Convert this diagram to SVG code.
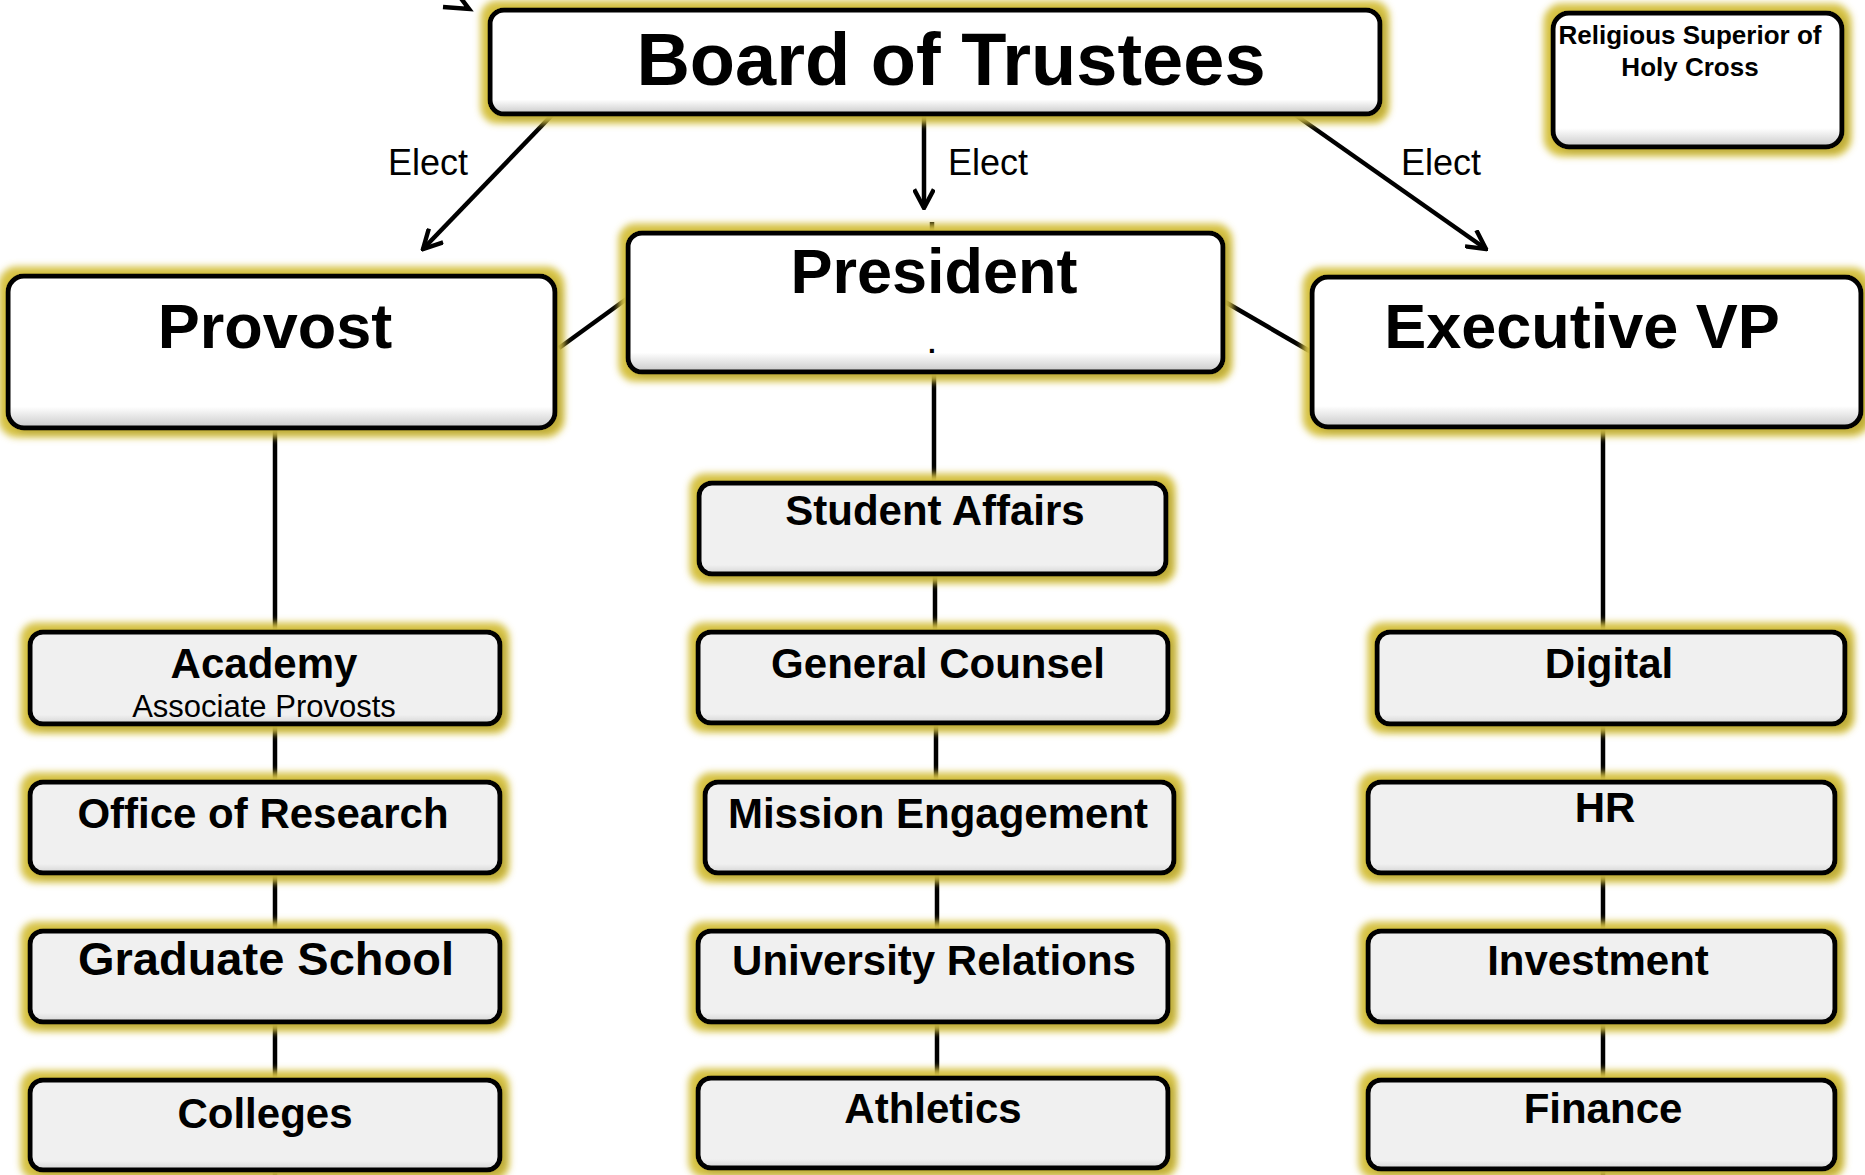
<svg xmlns="http://www.w3.org/2000/svg" width="1865" height="1175" viewBox="0 0 1865 1175">
<style>
  .box { stroke: #000; stroke-width: 5; filter: url(#glow); }
  .top { fill: url(#gTop); }
  .sub { fill: url(#gSub); }
  text { font-family: "Liberation Sans", Arial, sans-serif; fill: #000; }
  .t1 { font-size: 63px; font-weight: bold; text-anchor: middle; }
  .t2 { font-size: 42px; font-weight: bold; text-anchor: middle; }
  .lbl { font-size: 36px; }
  .conn { stroke: #000; stroke-width: 4.5; fill: none; }
</style>
<defs>
  <linearGradient id="gTop" x1="0" y1="0" x2="0" y2="1">
    <stop offset="0" stop-color="#ffffff"/>
    <stop offset="0.86" stop-color="#ffffff"/>
    <stop offset="1" stop-color="#c8c8c8"/>
  </linearGradient>
  <linearGradient id="gSub" x1="0" y1="0" x2="0" y2="1">
    <stop offset="0" stop-color="#f0f0f0"/>
    <stop offset="0.9" stop-color="#f0f0f0"/>
    <stop offset="1" stop-color="#d4d4d4"/>
  </linearGradient>
  <filter id="glow" x="-10%" y="-30%" width="120%" height="160%">
    <feMorphology in="SourceAlpha" operator="dilate" radius="7" result="d"/>
    <feGaussianBlur in="d" stdDeviation="3.5" result="b"/>
    <feFlood flood-color="#d6c244"/>
    <feComposite in2="b" operator="in" result="y"/>
    <feGaussianBlur in="SourceAlpha" stdDeviation="3" result="s"/>
    <feOffset in="s" dx="4" dy="3" result="so"/>
    <feFlood flood-color="#000" flood-opacity="0.25"/>
    <feComposite in2="so" operator="in" result="sh"/>
    <feMerge><feMergeNode in="y"/><feMergeNode in="sh"/><feMergeNode in="SourceGraphic"/></feMerge>
  </filter>
  <marker id="arr" markerUnits="userSpaceOnUse" viewBox="0 0 20 20" refX="18" refY="10" markerWidth="22" markerHeight="22" orient="auto">
    <path d="M1,1 L18,10 L1,19" fill="none" stroke="#000" stroke-width="4"/>
  </marker>
</defs>

<g id="connectors">
  <path class="conn" d="M443,7 L469,9 L460,-3"/>
  <line class="conn" x1="553" y1="114" x2="423" y2="249" marker-end="url(#arr)"/>
  <line class="conn" x1="924" y1="114" x2="924" y2="208" marker-end="url(#arr)"/>
  <line class="conn" x1="1294" y1="114" x2="1486" y2="249" marker-end="url(#arr)"/>
  <line class="conn" x1="559" y1="348" x2="632" y2="295"/>
  <line class="conn" x1="1220" y1="299" x2="1313" y2="353"/>
  <line class="conn" x1="932" y1="222" x2="932" y2="240"/>
  <line class="conn" x1="934" y1="370" x2="934" y2="485"/>
  <line class="conn" x1="935" y1="572" x2="935" y2="634"/>
  <line class="conn" x1="936" y1="721" x2="936" y2="784"/>
  <line class="conn" x1="937" y1="871" x2="937" y2="933"/>
  <line class="conn" x1="937" y1="1020" x2="937" y2="1080"/>
  <line class="conn" x1="275" y1="426" x2="275" y2="1175"/>
  <line class="conn" x1="1603" y1="425" x2="1603" y2="1175"/>
  <text class="lbl" x="388" y="175">Elect</text>
  <text class="lbl" x="948" y="175">Elect</text>
  <text class="lbl" x="1401" y="175">Elect</text>
</g>

<g id="board">
  <rect class="box top" x="490" y="10" width="890" height="104" rx="14"/>
  <text x="951" y="85" font-size="74" font-weight="bold" text-anchor="middle">Board of Trustees</text>
</g>
<g id="religious">
  <rect class="box top" x="1553" y="13" width="289" height="134" rx="16"/>
  <text x="1690" y="44" font-size="26" font-weight="bold" text-anchor="middle">Religious Superior of</text>
  <text x="1690" y="76" font-size="26" font-weight="bold" text-anchor="middle">Holy Cross</text>
</g>
<g id="president">
  <rect class="box top" x="628" y="233" width="595" height="139" rx="14"/>
  <text class="t1" x="934" y="293">President</text>
  <text x="932" y="353" font-size="28" font-weight="bold" text-anchor="middle">.</text>
</g>
<g id="provost">
  <rect class="box top" x="8" y="276" width="547" height="152" rx="16"/>
  <text class="t1" x="275" y="348">Provost</text>
</g>
<g id="executive-vp">
  <rect class="box top" x="1312" y="277" width="549" height="150" rx="16"/>
  <text class="t1" x="1582" y="348">Executive VP</text>
</g>

<g id="academy">
  <rect class="box sub" x="30" y="632" width="470" height="92" rx="13"/>
  <text class="t2" x="264" y="678">Academy</text>
  <text x="264" y="717" font-size="31" text-anchor="middle">Associate Provosts</text>
</g>
<g id="office-of-research">
  <rect class="box sub" x="30" y="782" width="470" height="91" rx="13"/>
  <text class="t2" x="263" y="828">Office of Research</text>
</g>
<g id="graduate-school">
  <rect class="box sub" x="30" y="931" width="470" height="91" rx="13"/>
  <text x="266" y="975" font-size="47" font-weight="bold" text-anchor="middle">Graduate School</text>
</g>
<g id="colleges">
  <rect class="box sub" x="30" y="1080" width="470" height="90" rx="13"/>
  <text class="t2" x="265" y="1128">Colleges</text>
</g>

<g id="student-affairs">
  <rect class="box sub" x="699" y="483" width="467" height="91" rx="13"/>
  <text class="t2" x="935" y="525">Student Affairs</text>
</g>
<g id="general-counsel">
  <rect class="box sub" x="698" y="632" width="470" height="91" rx="13"/>
  <text class="t2" x="938" y="678">General Counsel</text>
</g>
<g id="mission-engagement">
  <rect class="box sub" x="705" y="782" width="469" height="91" rx="13"/>
  <text class="t2" x="938" y="828">Mission Engagement</text>
</g>
<g id="university-relations">
  <rect class="box sub" x="698" y="931" width="470" height="91" rx="13"/>
  <text class="t2" x="934" y="975">University Relations</text>
</g>
<g id="athletics">
  <rect class="box sub" x="698" y="1078" width="470" height="90" rx="13"/>
  <text class="t2" x="933" y="1123">Athletics</text>
</g>

<g id="digital">
  <rect class="box sub" x="1377" y="632" width="468" height="92" rx="13"/>
  <text class="t2" x="1609" y="678">Digital</text>
</g>
<g id="hr">
  <rect class="box sub" x="1368" y="782" width="467" height="91" rx="13"/>
  <text class="t2" x="1605" y="822">HR</text>
</g>
<g id="investment">
  <rect class="box sub" x="1368" y="931" width="467" height="91" rx="13"/>
  <text class="t2" x="1598" y="975">Investment</text>
</g>
<g id="finance">
  <rect class="box sub" x="1368" y="1080" width="467" height="89" rx="13"/>
  <text class="t2" x="1603" y="1123">Finance</text>
</g>
</svg>
